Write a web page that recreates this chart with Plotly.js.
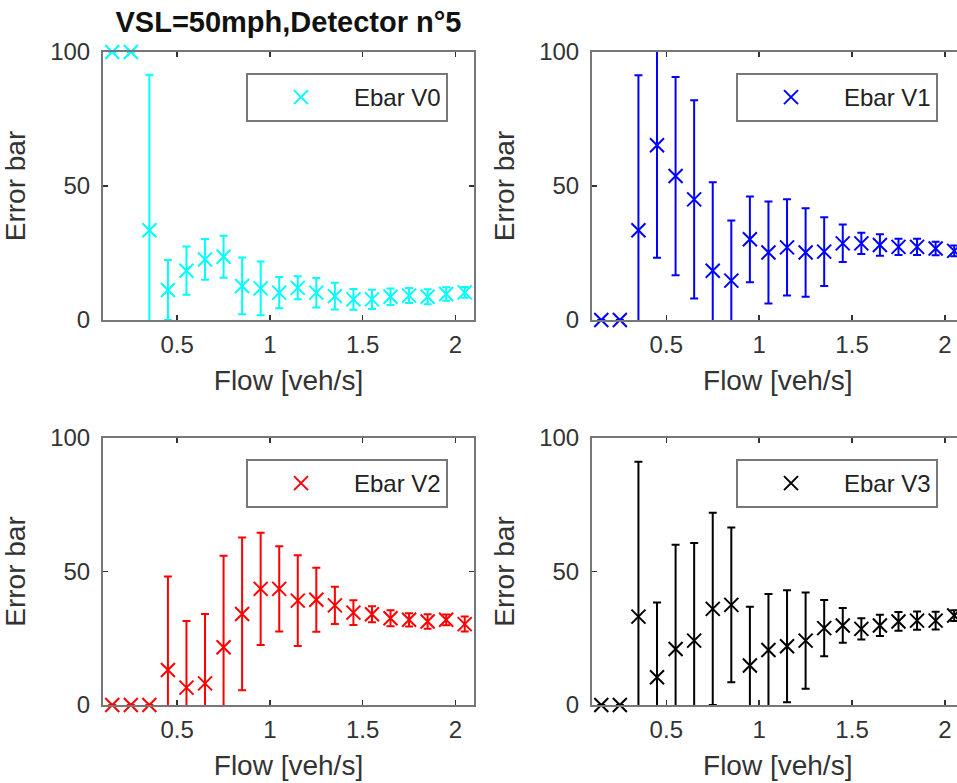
<!DOCTYPE html>
<html>
<head>
<meta charset="utf-8">
<script src="https://cdn.plot.ly/plotly-3.0.1.min.js"></script>
<style>
html, body { margin: 0; padding: 0; overflow: hidden; background: #fff; }
#chart { width: 970px; height: 783px; }
</style>
</head>
<body>
<div id="chart"></div>
<script>
// ---- data ----
const flow = [0.15, 0.25, 0.35, 0.45, 0.55, 0.65, 0.75, 0.85, 0.95, 1.05,
              1.15, 1.25, 1.35, 1.45, 1.55, 1.65, 1.75, 1.85, 1.95, 2.05];

const ebarV0 = [100, 100, 33.5, 11.2, 18.4, 22.6, 23.6, 12.7, 11.8, 10.2,
                12.0, 10.2, 8.9, 7.7, 7.7, 8.7, 9.1, 8.7, 9.7, 10.3];
const errV0  = [null, null, 58, 11.2, 9, 7.6, 7.8, 10.6, 10, 5.8,
                4.3, 5.5, 5, 3.9, 3.6, 3.1, 2.8, 2.8, 2.5, 2];

const ebarV1 = [0, 0, 33.5, 65.2, 53.7, 45.0, 18.4, 14.7, 30.1, 25.2,
                27.1, 25.2, 25.5, 28.6, 28.6, 28.0, 27.3, 27.3, 26.7, 25.8];
const errV1  = [null, null, 57.8, 42, 37, 37, 33, 22.4, 16, 19,
                18, 16.5, 12.8, 7, 4, 4, 3, 3, 2.5, 2];

const ebarV2 = [0, 0, 0, 13.1, 6.5, 8.1, 21.6, 34.1, 43.5, 43.5,
                39.1, 39.4, 37.3, 34.6, 34.0, 32.5, 31.9, 31.3, 31.9, 30.3];
const errV2  = [null, null, null, 35, 25, 26, 34.3, 28.6, 21, 16,
                17, 12, 7, 4.6, 3, 3, 2.5, 2.7, 2, 2.8];

const ebarV3 = [0, 0, 33.1, 10.4, 21, 24.1, 36, 37.5, 14.8, 20.6,
                22, 24.1, 28.8, 29.8, 28.5, 29.8, 31.3, 31.6, 31.6, 33.5];
const errV3  = [null, null, 58, 28, 39, 36.6, 36, 29, 22, 21,
                21, 18, 10.5, 6.5, 4, 4, 3.5, 3.4, 3.3, 2];

const seriesNames = ['Ebar V0', 'Ebar V1', 'Ebar V2', 'Ebar V3'];
const seriesColors = ['#00ffff', '#0000ff', '#ff0000', '#000000'];
const xTickVals = [0.5, 1, 1.5, 2];
const yTickVals = [0, 50, 100];

// ---- figure ----
const W = 970, H = 783;
const FONT = 'Liberation Sans, Arial, sans-serif';
const values = [ebarV0, ebarV1, ebarV2, ebarV3];
const errors = [errV0, errV1, errV2, errV3];
const axSuffix = ['', '2', '3', '4'];
const legendIds = ['legend', 'legend2', 'legend3', 'legend4'];

const traces = [];
for (let i = 0; i < 4; i++) {
  const xa = 'x' + axSuffix[i], ya = 'y' + axSuffix[i];
  // error bars (clipped to the axes)
  traces.push({
    type: 'scatter', mode: 'markers', x: flow, y: values[i],
    xaxis: xa, yaxis: ya, showlegend: false, hoverinfo: 'skip',
    cliponaxis: true,
    marker: { size: 1, opacity: 0, color: seriesColors[i] },
    error_y: { type: 'data', array: errors[i], visible: true,
               color: seriesColors[i], thickness: 2, width: 4 }
  });
  // markers (not clipped, as in the reference)
  traces.push({
    type: 'scatter', mode: 'markers', x: flow, y: values[i],
    xaxis: xa, yaxis: ya, name: seriesNames[i], legend: legendIds[i],
    cliponaxis: false,
    marker: { symbol: 'x-thin-open', size: 14, color: seriesColors[i],
              line: { width: 2, color: seriesColors[i] } }
  });
}

// panel boxes in pixels: [left, right, top, bottom]
const boxes = [
  [103, 474, 52, 320],
  [592, 963.5, 52, 320],
  [103, 474, 438, 705],
  [592, 963.5, 438, 705]
];

function xAxis(i) {
  const b = boxes[i];
  return {
    domain: [b[0] / W, b[1] / W], range: [0.1, 2.1], anchor: 'y' + axSuffix[i],
    tickvals: xTickVals, ticks: 'inside', ticklen: 5, tickwidth: 1.5, tickcolor: '#333',
    showline: true, linecolor: '#777', linewidth: 2, mirror: 'ticks',
    showgrid: false, zeroline: false, ticklabelstandoff: 2,
    tickfont: { family: FONT, size: 24, color: '#333' },
    title: { text: 'Flow [veh/s]', standoff: 14, font: { family: FONT, size: 28, color: '#333' } }
  };
}
function yAxis(i) {
  const b = boxes[i];
  return {
    domain: [(H - b[3]) / H, (H - b[2]) / H], range: [0, 100], anchor: 'x' + axSuffix[i],
    tickvals: yTickVals, ticks: 'inside', ticklen: 5, tickwidth: 1.5, tickcolor: '#333',
    showline: true, linecolor: '#777', linewidth: 2, mirror: 'ticks',
    showgrid: false, zeroline: false, ticklabelstandoff: 6,
    tickfont: { family: FONT, size: 24, color: '#333' },
    title: { text: 'Error bar', standoff: 16, font: { family: FONT, size: 28, color: '#333' } }
  };
}
function legendFor(i) {
  const b = boxes[i];
  const right = (i % 2 === 0) ? 448 : 938;
  const top = b[2] + 21;
  return {
    x: right / W, xanchor: 'right', y: (H - top) / H, yanchor: 'top',
    bgcolor: '#fff', bordercolor: '#777', borderwidth: 2,
    itemwidth: 96, font: { family: FONT, size: 24, color: '#222' }
  };
}

const layout = {
  width: W, height: H,
  margin: { l: 0, r: 0, t: 0, b: 0 },
  paper_bgcolor: '#fff', plot_bgcolor: '#fff',
  title: {
    text: '<b>VSL=50mph,Detector n°5</b>',
    font: { family: FONT, size: 29, color: '#111' },
    xref: 'paper', x: (boxes[0][0] + boxes[0][1]) / 2 / W, xanchor: 'center',
    yref: 'container', y: 1 - 22 / H, yanchor: 'middle'
  },
  showlegend: true
};
for (let i = 0; i < 4; i++) {
  layout['xaxis' + axSuffix[i]] = xAxis(i);
  layout['yaxis' + axSuffix[i]] = yAxis(i);
  layout[legendIds[i]] = legendFor(i);
}

Plotly.newPlot('chart', traces, layout, { displayModeBar: false, staticPlot: true });
</script>
</body>
</html>
